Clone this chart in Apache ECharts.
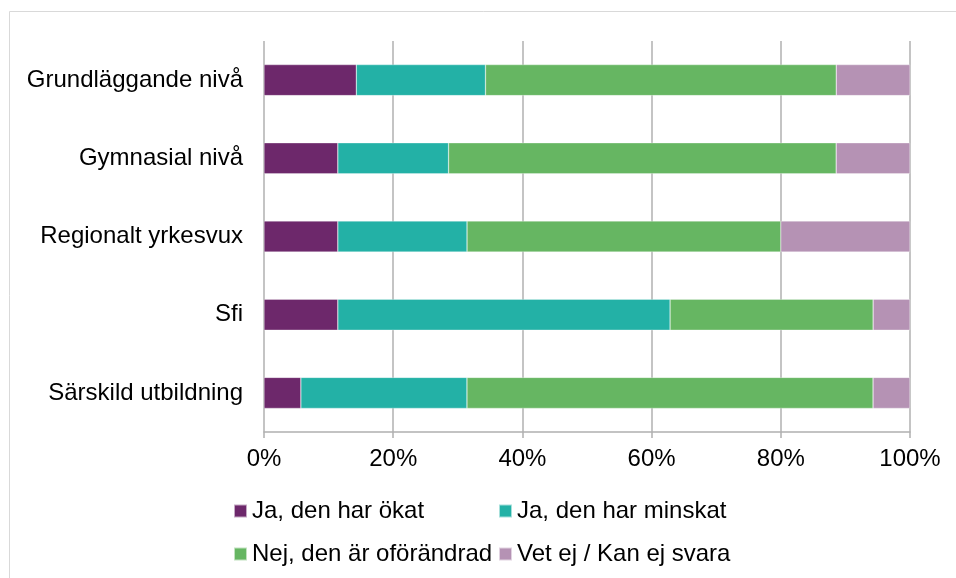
<!DOCTYPE html>
<html>
<head>
    <meta charset="utf-8" />
    <title>Stapeldiagram</title>
    <style>
        html, body { margin: 0; padding: 0; background: #fff; }
        #main { width: 956px; height: 578px; }
    </style>
</head>
<body>
    <div id="main"></div>
    <script src="https://cdn.jsdelivr.net/npm/echarts@6/dist/echarts.min.js"></script>
    <script type="text/javascript">
        // kategorier, uppifrån och ned
        var categories = ['Grundläggande nivå', 'Gymnasial nivå', 'Regionalt yrkesvux', 'Sfi', 'Särskild utbildning'];
        var seriesNames = ['Ja, den har ökat', 'Ja, den har minskat', 'Nej, den är oförändrad', 'Vet ej / Kan ej svara'];
        var okat = [14.29, 11.43, 11.43, 11.43, 5.71];
        var minskat = [20.00, 17.14, 20.00, 51.43, 25.71];
        var oforandrad = [54.29, 60.00, 48.57, 31.43, 62.86];
        var vetEj = [11.43, 11.43, 20.00, 5.71, 5.71];
        var tickLabels = ['0%', '20%', '40%', '60%', '80%', '100%'];

        var colors = ['#6d286b', '#23b1a6', '#66b662', '#b592b4'];
        var font = 'Liberation Sans, Arial, sans-serif';

        var chart = echarts.init(document.getElementById('main'));

        function bar(name, data) {
            return {
                name: name,
                type: 'bar',
                stack: 'total',
                barWidth: 31,
                data: data,
                itemStyle: { borderColor: 'rgba(255,255,255,0.6)', borderWidth: 0.5 }
            };
        }

        function legendCol(left, names) {
            return {
                orient: 'vertical',
                left: left,
                top: 494,
                itemGap: 19,
                itemWidth: 13,
                itemHeight: 13,
                icon: 'rect',
                data: names,
                textStyle: { color: '#000', fontSize: 24, fontFamily: font }
            };
        }

        var option = {
            animation: false,
            color: colors,
            textStyle: { fontFamily: font },
            graphic: [{
                type: 'rect',
                shape: { x: 9.5, y: 11.5, width: 1000, height: 1000 },
                style: { fill: 'none', stroke: '#d9d9d9', lineWidth: 1 },
                silent: true
            }],
            grid: { left: 264, right: 46, top: 41, bottom: 146 },
            xAxis: {
                type: 'value',
                min: 0,
                max: 100,
                interval: 20,
                axisLine: { show: true, lineStyle: { color: '#b0b0b0', width: 1.5 } },
                axisTick: { show: true, length: 6, lineStyle: { color: '#b0b0b0', width: 1.5 } },
                splitLine: { show: true, lineStyle: { color: '#b0b0b0', width: 1.5 } },
                axisLabel: {
                    color: '#000',
                    fontSize: 24,
                    fontFamily: font,
                    margin: 15,
                    formatter: function (v) { return tickLabels[Math.round(v / 20)]; }
                }
            },
            yAxis: {
                type: 'category',
                inverse: true,
                data: categories,
                axisLine: { show: false },
                axisTick: { show: false },
                axisLabel: { color: '#000', fontSize: 24, fontFamily: font, margin: 21 }
            },
            legend: [
                legendCol(228, [seriesNames[0], seriesNames[2]]),
                legendCol(493, [seriesNames[1], seriesNames[3]])
            ],
            series: [
                bar(seriesNames[0], okat),
                bar(seriesNames[1], minskat),
                bar(seriesNames[2], oforandrad),
                bar(seriesNames[3], vetEj)
            ]
        };

        chart.setOption(option);
    </script>
</body>
</html>
